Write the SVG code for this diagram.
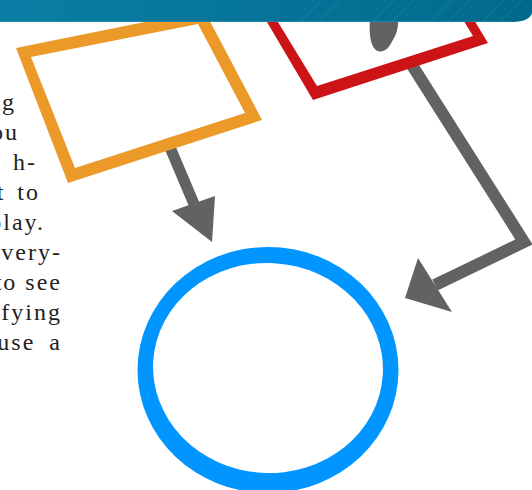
<svg xmlns="http://www.w3.org/2000/svg" width="532" height="490" viewBox="0 0 532 490">
  <defs>
    <linearGradient id="bannerGrad" x1="0" y1="0" x2="1" y2="0">
      <stop offset="0" stop-color="#0b7ea5"/>
      <stop offset="1" stop-color="#006a8c"/>
    </linearGradient>
    <style>
      .conn { fill: none; stroke: #626262; stroke-linejoin: miter; stroke-miterlimit: 10; }
      .head { fill: #626262; }
      .body { font-family: "Liberation Serif", "DejaVu Serif", serif; font-size: 24px; fill: #231f20; letter-spacing: 2px; text-anchor: end; }
      .stripe { stroke: #ffffff; stroke-opacity: 0.07; stroke-width: 1.2; }
    </style>
  </defs>
  <rect x="0" y="0" width="532" height="490" fill="#ffffff"/>

  <!-- body text (clipped at left edge) -->
  <g id="text">
    <text class="body" x="16" y="110">g</text>
    <text class="body" x="19" y="140">ou</text>
    <text class="body" x="37" y="170">h-</text>
    <text class="body" x="40" y="200" word-spacing="4">t to</text>
    <text class="body" x="45" y="230">play.</text>
    <text class="body" x="62" y="260">very-</text>
    <text class="body" x="62" y="290">to see</text>
    <text class="body" x="62" y="320">fying</text>
    <text class="body" x="62" y="350" word-spacing="6">use a</text>
  </g>

  <!-- connectors -->
  <g id="connectors">
    <path class="conn" stroke-width="11" d="M169,145 L194,204"/>
    <polygon class="head" points="172,211 215,196 212,242"/>
    <path class="conn" stroke-width="12" d="M410,62 L524,242 L435,285"/>
    <polygon class="head" points="418,258 452,312 405,298"/>
    <path class="head" d="M370,18 L398,18 C399,32 394,38 390,45 C386,52 378,54 374,48 C370,42 369,32 370,18 Z"/>
  </g>

  <!-- orange node -->
  <g id="node-orange">
    <path fill="#eb9a2a" fill-rule="evenodd" d="M16,48 L68,183 L262,120 L204,10 Z M31,57 L198,24 L245,113 L75,168 Z"/>
  </g>

  <!-- red node -->
  <g id="node-red">
    <path fill="#cc1417" fill-rule="evenodd" d="M254,0 L313,100 L488,43 L462,0 Z M264.5,0 L451,0 L473,36 L317,86 Z"/>
  </g>

  <!-- blue node -->
  <g id="node-blue">
    <ellipse cx="268" cy="370" rx="130.5" ry="123" fill="#0095ff"/>
    <ellipse cx="268" cy="368" rx="115" ry="105" fill="#ffffff" transform="rotate(3.5 268 368)"/>
  </g>

  <!-- banner -->
  <g id="banner">
    <path fill="url(#bannerGrad)" d="M0,0 H532 V12 C532,18 524,22 512,22 H0 Z"/>
    <g class="stripe">
      <line x1="300" y1="22" x2="322" y2="0"/>
      <line x1="318" y1="22" x2="340" y2="0"/>
      <line x1="372" y1="22" x2="394" y2="0"/>
      <line x1="392" y1="22" x2="414" y2="0"/>
      <line x1="430" y1="22" x2="452" y2="0"/>
      <line x1="448" y1="22" x2="470" y2="0"/>
      <line x1="482" y1="22" x2="504" y2="0"/>
      <line x1="500" y1="22" x2="522" y2="0"/>
    </g>
    <line x1="0" y1="21.5" x2="512" y2="21.5" stroke="#3a95b5" stroke-opacity="0.5" stroke-width="1"/>
  </g>
</svg>
